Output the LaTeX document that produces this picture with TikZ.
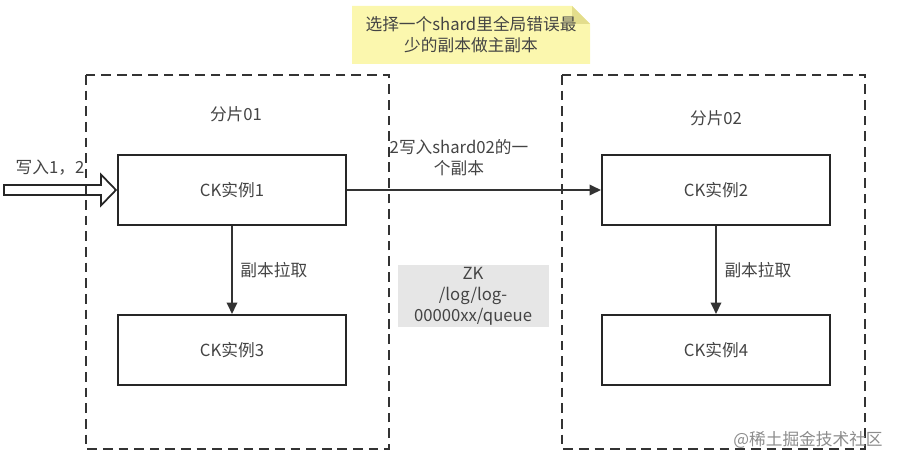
\documentclass[tikz,border=0pt]{standalone}
\usepackage{fontspec}
\setmainfont{Noto Sans CJK SC}
\usetikzlibrary{positioning,shapes,arrows.meta,calc}
\definecolor{notefill}{HTML}{FBF7AE}
\definecolor{notefold}{HTML}{E3DD8C}
\definecolor{zkgray}{HTML}{E6E6E6}
\definecolor{txtgray}{HTML}{444444}
\definecolor{linegray}{HTML}{333333}
\newcommand{\unitpx}{0.02cm}

\tikzset{
  every node/.style={font=\fontsize{9.5}{12}\selectfont, text=txtgray},
  ckbox/.style={draw=black!85, line width=1.2pt, minimum width=228*\unitpx, minimum height=70*\unitpx},
  shardbox/.style={draw=black!80, line width=1.1pt, dash pattern=on 5.5pt off 3.4pt},
  flow/.style={draw=linegray, line width=1pt, -{Triangle[length=6.5pt, width=6pt]}},
  inarrow/.style={draw=black!85, line width=1pt, line join=miter}
}

\begin{document}
\begin{tikzpicture}[x=\unitpx, y=-\unitpx]
      \useasboundingbox (0,0) rectangle (898,466);

      % note on top
      \fill[notefill] (352,6) -- (572,6) -- (590,24) -- (590,64) -- (352,64) -- cycle;
      \fill[notefold] (572,6) -- (590,24) -- (572,24) -- cycle;
      \node[align=center] (note) at (471,35) {选择一个shard里全局错误最\\少的副本做主副本};

      % shards
      \draw[shardbox] (86,75) rectangle (389,449);
      \draw[shardbox] (562,75) rectangle (865,449);
      \node (shard1) at (236,114) {分片01};
      \node (shard2) at (716,118) {分片02};

      % replicas
      \node[ckbox] (ck1) at (232,190) {CK实例1};
      \node[ckbox] (ck3) at (232,350) {CK实例3};
      \node[ckbox] (ck2) at (716,190) {CK实例2};
      \node[ckbox] (ck4) at (716,350) {CK实例4};

      \draw[flow] (ck1) -- (ck3) node[midway, right=1pt] {副本拉取};
      \draw[flow] (ck2) -- (ck4) node[midway, right=1pt] {副本拉取};
      \draw[flow] (ck1) -- (ck2);
      \node[align=center] (write2) at (459,158) {2写入shard02的一\\个副本};

      % zookeeper path
      \node[fill=zkgray, align=center, minimum width=151*\unitpx, minimum height=59*\unitpx,
            inner sep=1pt] (zk) at (473,296) {ZK\\/log/log-\\00000xx/queue};

      % incoming writes
      \coordinate (intip) at ($(ck1.west)+(-1,0)$);
      \draw[inarrow] (intip) -- ++(-15,-15.5) -- ++(0,10.5) -- ++(-97,0) -- ++(0,10)
        -- ++(97,0) -- ++(0,10.5) -- cycle;
      \node (write12) at (50,168) {写入1，2};

      \node[text=black!45] (mark) at (808,440) {@稀土掘金技术社区};
    \end{tikzpicture}
\end{document}
